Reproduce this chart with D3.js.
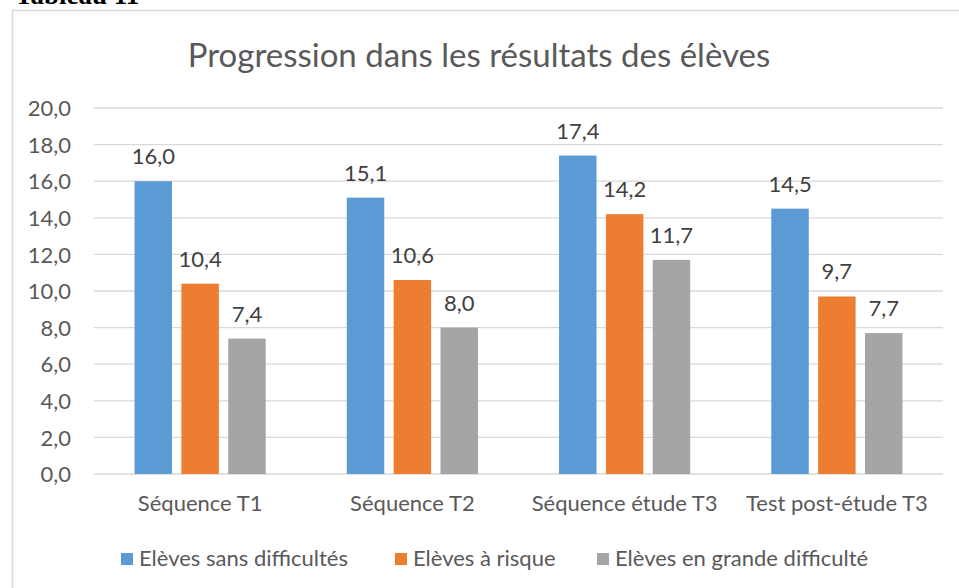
<!DOCTYPE html>
<html>
<head>
<meta charset="utf-8">
<script src="https://cdn.jsdelivr.net/npm/d3@7"></script>
<style>
  html, body { margin: 0; padding: 0; background: #fff; }
  svg { display: block; }
</style>
</head>
<body>
<div id="chart"></div>
<script>
// ── Data ──
const categories = ['Séquence T1', 'Séquence T2', 'Séquence étude T3', 'Test post-étude T3'];
const seriesNames = ['Elèves sans difficultés', 'Elèves à risque', 'Elèves en grande difficulté'];
const sansDifficultes = [16.0, 15.1, 17.4, 14.5];
const aRisque = [10.4, 10.6, 14.2, 9.7];
const grandeDifficulte = [7.4, 8.0, 11.7, 7.7];
const yTicks = [0, 2, 4, 6, 8, 10, 12, 14, 16, 18, 20];

const seriesValues = [sansDifficultes, aRisque, grandeDifficulte];
const COLORS = ['#5B9BD5', '#ED7D31', '#A5A5A5'];

const W = 959, H = 588;
const FONT = 'Lato, Carlito, Calibri, sans-serif';
const plot = { left: 94, right: 943, top: 108, bottom: 474 };

const svg = d3.select('#chart')
  .append('svg')
  .attr('width', W)
  .attr('height', H);

// Heading above the chart (cut off at the top, as in the source page)
svg.append('text')
  .attr('x', 15)
  .attr('y', 4)
  .attr('font-family', '"Liberation Serif", "Times New Roman", serif')
  .attr('font-weight', 'bold')
  .attr('font-size', '27px')
  .attr('fill', '#000')
  .text('Tableau 11');

// Chart frame
svg.append('rect')
  .attr('x', 12.5)
  .attr('y', 10.5)
  .attr('width', 960)
  .attr('height', 600)
  .attr('fill', '#fff')
  .attr('stroke', '#D9D9D9')
  .attr('stroke-width', 1.5);

// Title
svg.append('text')
  .attr('x', 479)
  .attr('y', 67)
  .attr('text-anchor', 'middle')
  .attr('font-family', FONT)
  .attr('font-size', '33px')
  .attr('fill', '#595959')
  .text('Progression dans les résultats des élèves');

// Scales
const x0 = d3.scaleBand()
  .domain(categories)
  .range([plot.left, plot.right])
  .paddingInner(0.382)
  .paddingOuter(0.191);

const x1 = d3.scaleBand()
  .domain(d3.range(seriesNames.length))
  .range([0, x0.bandwidth()])
  .paddingInner(0.2);

const y = d3.scaleLinear()
  .domain([0, 20])
  .range([plot.bottom, plot.top]);

// Gridlines
svg.append('g')
  .selectAll('line')
  .data(yTicks)
  .join('line')
  .attr('x1', plot.left)
  .attr('x2', plot.right)
  .attr('y1', d => y(d))
  .attr('y2', d => y(d))
  .attr('stroke', '#D9D9D9')
  .attr('stroke-width', 1.3);

// Y axis labels
const fmt = d => d3.format('.1f')(d).replace('.', ',');
const yAxis = svg.append('g')
  .attr('transform', `translate(${plot.left - 23},0)`)
  .call(d3.axisLeft(y).tickValues(yTicks).tickFormat(fmt).tickSize(0).tickPadding(0));
yAxis.select('.domain').remove();
yAxis.selectAll('text')
  .attr('font-family', FONT)
  .attr('font-size', '22px')
  .attr('fill', '#595959')
  .attr('dy', '0.35em');

// Bars
const groups = svg.append('g')
  .selectAll('g')
  .data(categories)
  .join('g')
  .attr('transform', d => `translate(${x0(d)},0)`);

groups.selectAll('rect')
  .data((c, ci) => seriesValues.map((vals, si) => ({ si, v: vals[ci] })))
  .join('rect')
  .attr('x', d => x1(d.si))
  .attr('y', d => y(d.v))
  .attr('width', x1.bandwidth())
  .attr('height', d => y(0) - y(d.v))
  .attr('fill', d => COLORS[d.si]);

// Data labels
groups.selectAll('text')
  .data((c, ci) => seriesValues.map((vals, si) => ({ si, v: vals[ci] })))
  .join('text')
  .attr('x', d => x1(d.si) + x1.bandwidth() / 2)
  .attr('y', d => y(d.v) - 17)
  .attr('text-anchor', 'middle')
  .attr('font-family', FONT)
  .attr('font-size', '22px')
  .attr('fill', '#404040')
  .text(d => fmt(d.v));

// X axis labels
const xAxis = svg.append('g')
  .attr('transform', `translate(0,${plot.bottom})`)
  .call(d3.axisBottom(x0).tickSize(0).tickPadding(0));
xAxis.select('.domain').remove();
xAxis.selectAll('text')
  .attr('font-family', FONT)
  .attr('font-size', '22px')
  .attr('fill', '#595959')
  .attr('dy', null)
  .attr('y', 37);

// Legend
const legendX = [121, 395, 597];
const legend = svg.append('g')
  .selectAll('g')
  .data(seriesNames)
  .join('g')
  .attr('transform', (d, i) => `translate(${legendX[i]},553)`);

legend.append('rect')
  .attr('width', 12)
  .attr('height', 12)
  .attr('fill', (d, i) => COLORS[i]);

legend.append('text')
  .attr('x', 18)
  .attr('y', 13)
  .attr('font-family', FONT)
  .attr('font-size', '22px')
  .attr('fill', '#595959')
  .text(d => d);
</script>
</body>
</html>
